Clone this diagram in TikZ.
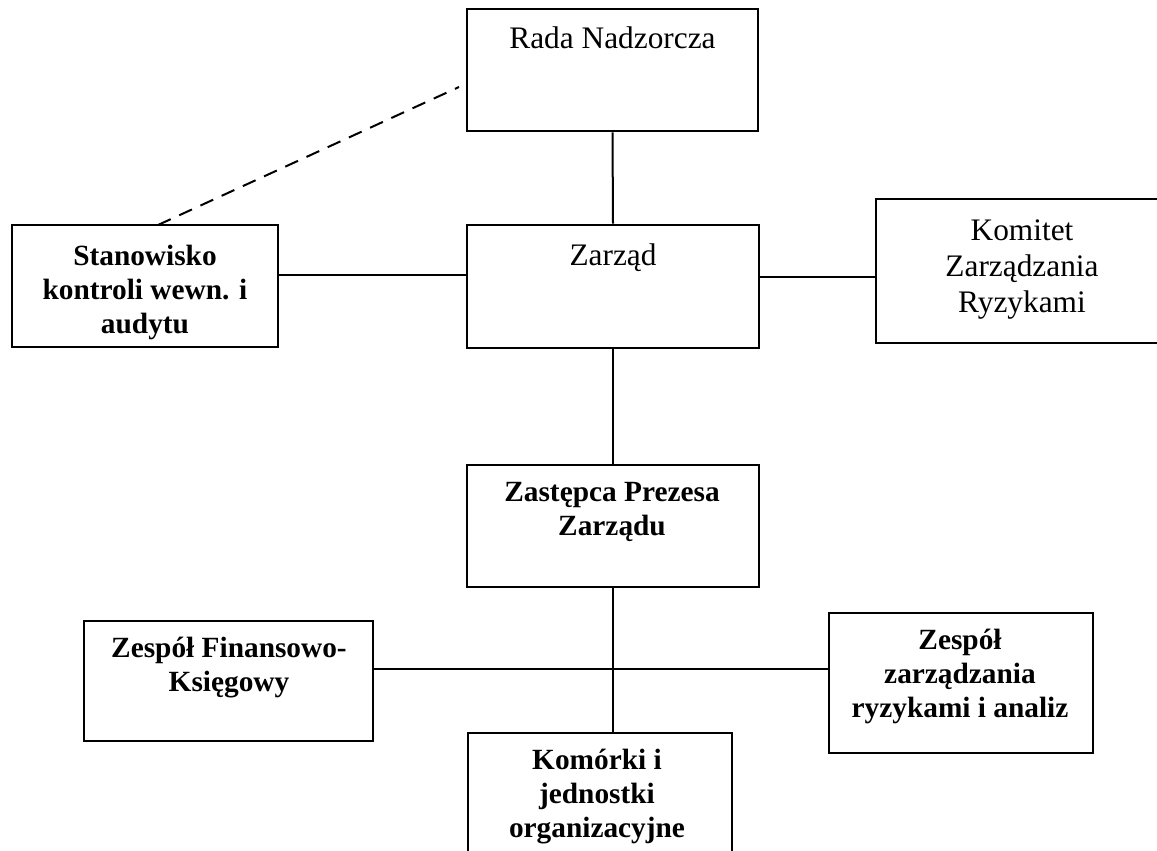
\documentclass[tikz,border=0pt]{standalone}
\usepackage{fontspec}
\setmainfont{Liberation Serif}
\begin{document}
\begin{tikzpicture}[x=0.75pt,y=-0.75pt,
  box/.style={draw,line width=2.1pt,inner sep=0pt,fill=none},
  link/.style={line width=1.5pt},
  reg/.style={font=\fontsize{23.5}{27}\selectfont,align=center,anchor=base,inner sep=0pt},
  bld/.style={font=\fontsize{22}{25.2}\selectfont\bfseries,align=center,anchor=base,inner sep=0pt}]
\useasboundingbox (0,0) rectangle (1157,850);
\begin{scope}
\clip (0,0) rectangle (1157,850);
% boxes
\node[box,minimum width=218.25pt,minimum height=91.5pt] (rada) at (612.5,70) {};
\node[box,minimum width=219pt,minimum height=92.25pt] (zarz) at (613,286.5) {};
\node[box,minimum width=199.5pt,minimum height=91.5pt] (stan) at (145,286) {};
\node[box,minimum width=219pt,minimum height=108pt] (kom) at (1022,271) {};
\node[box,minimum width=219pt,minimum height=91.5pt] (zast) at (613,526) {};
\node[box,minimum width=216.75pt,minimum height=90pt] (fin) at (228.5,681) {};
\node[box,minimum width=198pt,minimum height=125.25pt] (kmo) at (600,816.5) {};
\node[box,minimum width=198pt,minimum height=105pt] (zesp) at (961,683) {};
% texts (base = baseline of last line)
\node[reg] (radat) at (612.5,48) {Rada Nadzorcza};
\node[reg] (zarzt) at (613,265) {Zarząd};
\node[reg] (komt) at (1022,312) {Komitet\\Zarządzania\\Ryzykami};
\node[bld] (stant) at (145,333) {Stanowisko\\kontroli wewn. i\\audytu};
\node[bld] (zastt) at (612,535) {Zastępca Prezesa\\Zarządu};
\node[bld] (fint) at (229,691) {Zespół Finansowo-\\Księgowy};
\node[bld] (kmot) at (597,837) {Komórki i\\jednostki\\organizacyjne};
\node[bld] (zespt) at (960,717) {Zespół\\zarządzania\\ryzykami i analiz};
% connectors
\coordinate (dashend) at (459,87);
\coordinate (dashstart) at (158,225);
\draw[link] (rada.south) -- (zarz.north);
\draw[link] (stan.east |- 0,275) -- (zarz.west |- 0,275);
\draw[link] (zarz.east |- 0,277) -- (kom.west |- 0,277);
\draw[link] (zarz.south) -- (zast.north);
\draw[link] (zast.south) -- (zast.south |- kmo.north);
\draw[link] (fin.east |- 0,669) -- (zesp.west |- 0,669);
\draw[link,dash pattern=on 10.5pt off 7pt] (dashstart) -- (dashend);
\end{scope}
\end{tikzpicture}
\end{document}
